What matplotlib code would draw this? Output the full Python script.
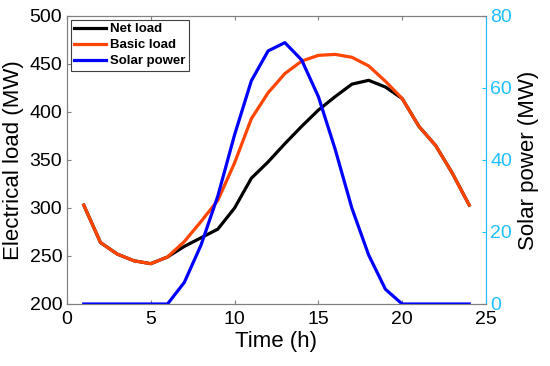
import matplotlib
matplotlib.use("Agg")
import matplotlib.pyplot as plt

plt.rcParams['font.family'] = ['Liberation Sans', 'DejaVu Sans']

hours = list(range(1, 25))
basic_load = [303, 264, 252, 245, 242, 249, 265, 286, 308, 347, 393, 420,
              440, 453, 459, 460, 457, 448, 432, 414, 385, 365, 336, 303]
net_load = [303, 264, 252, 245, 242, 249, 260, 269, 278, 300, 331, 348,
            367, 385, 402, 416, 429, 433, 426, 414, 385, 365, 336, 303]
solar_power = [0, 0, 0, 0, 0, 0, 6, 16.4, 30, 47, 62, 70.3,
               72.6, 67.8, 57.6, 43, 26.6, 13.6, 4.1, 0, 0, 0, 0, 0]

orange = '#ff4500'
cyan = '#1ebfff'
lw = 2.3

fig = plt.figure(figsize=(5.5, 3.66), dpi=100)
ax = fig.add_axes([0.1218, 0.1694, 0.7618, 0.7869])
ax2 = ax.twinx()

l1, = ax.plot(hours, net_load, color='black', lw=lw, label='Net load')
l2, = ax.plot(hours, basic_load, color=orange, lw=lw, label='Basic load')
l3, = ax2.plot(hours, solar_power, color='blue', lw=lw, label='Solar power')

ax.set_xlim(0, 25)
ax.set_ylim(200, 500)
ax.set_xticks([0, 5, 10, 15, 20, 25])
ax.set_yticks(range(200, 501, 50))
ax2.set_ylim(0, 80)
ax2.set_yticks(range(0, 81, 20))

ax.set_xlabel('Time (h)', fontsize=16, labelpad=2)
ax.set_ylabel('Electrical load (MW)', fontsize=16, labelpad=4)
ax2.set_ylabel('Solar power (MW)', fontsize=16, labelpad=4)

for a in (ax, ax2):
    for s in a.spines.values():
        s.set_color('#808080')
        s.set_linewidth(0.8)
ax2.spines['right'].set_color(cyan)
ax.tick_params(axis='x', pad=5)
ax.tick_params(direction='in', length=3, labelsize=14, top=True,
               color='#808080')
ax2.tick_params(axis='y', direction='in', length=3, labelsize=14,
                colors=cyan, pad=3)

leg = ax2.legend(handles=[l1, l2, l3], loc='upper left',
                 prop={'weight': 'bold', 'size': 9.5}, fancybox=False,
                 framealpha=1, edgecolor='#404040', borderpad=0.25,
                 handlelength=2.4, handletextpad=0.3, labelspacing=0.28,
                 borderaxespad=0.3)
leg.get_frame().set_linewidth(0.8)

fig.savefig('out.png')
